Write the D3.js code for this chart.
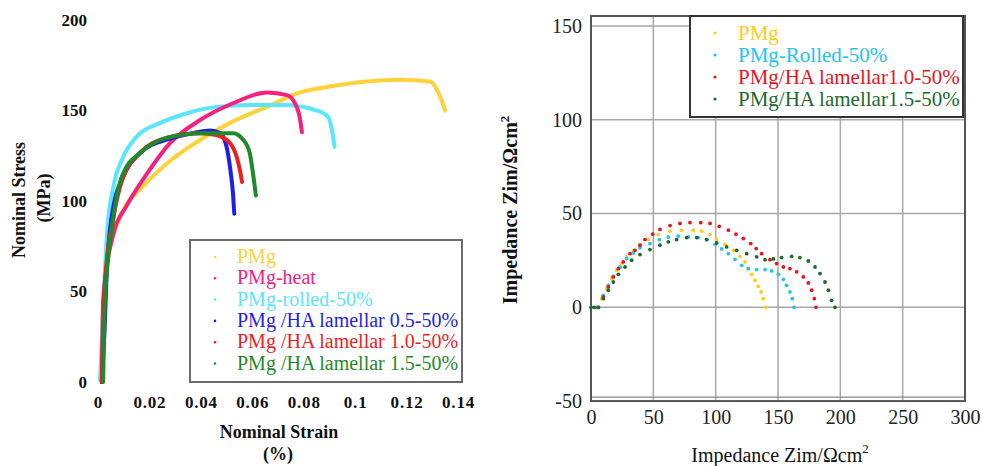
<!DOCTYPE html>
<html>
<head>
<meta charset="utf-8">
<script src="https://cdn.jsdelivr.net/npm/d3@7"></script>
<style>
  body { margin: 0; background: #fff; }
  text { font-family: "Liberation Serif", "Times New Roman", serif; }
</style>
</head>
<body>
<div id="chart"></div>
<script>
// ---- left panel: tensile curves (strain, stress MPa)
var strainTicks = [0, 0.02, 0.04, 0.06, 0.08, 0.1, 0.12, 0.14]
var strainLabels = ["0", "0.02", "0.04", "0.06", "0.08", "0.1", "0.12", "0.14"]
var stressTicks = [0, 50, 100, 150, 200]

var pmg = [[0.0015,0],[0.0022,30],[0.0035,63.5],[0.0086,91],[0.0175,108],[0.027,121],[0.040,134],[0.0525,144],[0.0657,152],[0.0786,160],[0.0914,163.5],[0.1046,166],[0.117,167],[0.129,166],[0.132,161],[0.135,150]]
var pmgHeat = [[0.0015,0],[0.002,45],[0.006,82],[0.011,97],[0.019,115],[0.028,132],[0.040,145],[0.0525,154],[0.0657,160],[0.0735,158.5],[0.0766,154],[0.0786,145],[0.0793,138]]
var pmgRolled = [[0.0008,1],[0.002,40],[0.0035,82],[0.006,108],[0.0097,124],[0.015,135.5],[0.024,143],[0.0346,148.5],[0.046,152],[0.059,153],[0.072,153],[0.085,150],[0.0895,146.5],[0.091,139],[0.092,130]]
var lam05 = [[0.0015,0],[0.0025,27],[0.0035,63.5],[0.006,97],[0.0097,113],[0.0163,126.5],[0.027,134],[0.037,137.5],[0.0436,139],[0.0475,137.5],[0.050,130],[0.0513,119],[0.0525,104],[0.053,93]]
var lam10 = [[0.0015,0],[0.0027,55],[0.006,91],[0.0097,113],[0.0163,126.5],[0.027,135],[0.040,137.5],[0.046,136.5],[0.0513,132],[0.054,124],[0.0552,117],[0.056,110.5]]
var lam15 = [[0.002,0],[0.0027,45],[0.006,91],[0.0097,115],[0.0163,126.5],[0.027,135],[0.040,137.5],[0.0525,137.5],[0.0564,134],[0.059,126.5],[0.0603,115],[0.0614,103]]

var tensileNames = ["PMg", "PMg-heat", "PMg-rolled-50%", "PMg /HA lamellar 0.5-50%", "PMg /HA lamellar 1.0-50%", "PMg /HA lamellar 1.5-50%"]
var tensileColors = ["#ffd23a", "#f5217f", "#5ae6ff", "#1f1fe8", "#f01e1e", "#1e8a2a"]
var tensileData = [pmg, pmgHeat, pmgRolled, lam05, lam10, lam15]
var drawOrder = [0, 2, 1, 3, 4, 5]

// ---- right panel: Nyquist plot (Z', Z'')
var zTicksX = [0, 50, 100, 150, 200, 250, 300]
var zTicksY = [-50, 0, 50, 100, 150]

var zPmg = [[4.5,0],[8.6,4.6],[12.6,10.0],[16.6,15.3],[20.6,19.8],[24.6,23.3],[28.6,26.9],[34.0,30.4],[39.3,33.1],[46.0,36.1],[54.0,38.8],[63.4,40.6],[72.7,41.1],[82.1,41.1],[88.8,40.6],[95.5,38.8],[100.8,36.1],[107.5,33.6],[114.2,30.4],[119.5,27.2],[123.5,24.2],[126.2,20.6],[128.9,17.6],[131.5,14.4],[134.2,11.2],[136.4,8.2],[138.2,4.6],[140.4,0]]
var zRolled = [[4.5,0],[9.9,6.4],[13.9,11.7],[17.9,16.5],[23.3,21.5],[28.6,26.0],[34.0,29.0],[39.3,31.7],[47.3,34.0],[54.8,36.1],[62.0,37.5],[70.0,37.9],[78.1,37.5],[86.1,37.2],[92.8,36.1],[99.5,33.6],[104.8,31.1],[110.2,28.6],[115.5,25.6],[120.9,22.4],[126.2,20.6],[132.9,20.1],[139.6,20.1],[144.9,19.4],[150.3,17.6],[154.3,14.9],[156.9,11.7],[159.6,8.2],[161.5,4.6],[162.8,0]]
var zLam10 = [[5.9,0],[9.9,5.5],[13.9,10.9],[17.9,16.2],[21.9,20.6],[25.9,24.2],[31.3,28.6],[35.3,30.4],[39.3,33.1],[43.3,36.1],[49.5,39.0],[55.3,41.5],[63.4,43.6],[71.4,44.7],[79.4,45.2],[88.0,45.2],[95.5,44.7],[102.9,43.2],[110.2,41.1],[116.3,39.0],[122.2,36.7],[128.1,34.0],[132.5,31.3],[136.9,28.6],[143.6,25.4],[148.9,23.3],[154.3,21.5],[159.6,20.6],[165.0,18.9],[170.3,16.2],[174.3,13.0],[177.0,9.1],[179.1,4.6],[180.5,0]]
var zLam15 = [[0,0],[2.5,0],[5.9,0],[9.9,4.6],[13.9,9.1],[17.9,13.5],[21.9,17.6],[27.3,21.5],[32.6,25.1],[39.3,28.1],[47.3,30.8],[55.3,33.1],[62.0,34.9],[68.7,36.1],[76.7,37.2],[84.8,37.2],[92.8,36.1],[100.8,34.3],[108.8,32.2],[116.8,30.4],[124.9,28.6],[132.9,26.9],[139.6,25.4],[146.3,25.8],[152.9,26.5],[161.0,27.2],[167.6,26.5],[174.3,24.7],[179.7,21.5],[183.7,18.0],[187.7,13.5],[190.4,9.1],[193.0,3.7],[195.7,0]]

var eisNames = ["PMg", "PMg-Rolled-50%", "PMg/HA lamellar1.0-50%", "PMg/HA lamellar1.5-50%"]
var eisColors = ["#ffcc1a", "#22c4f5", "#e8141e", "#1d6b2c"]
var eisData = [zPmg, zRolled, zLam10, zLam15]

var serif = "'Liberation Serif', 'Times New Roman', serif"

var svg = d3.select("#chart").append("svg")
	.attr("width", 982)
	.attr("height", 466)
	.style("background", "#fff")

// ================= left chart =================
var x1 = d3.scaleLinear().domain([0, 0.14]).range([98, 458])
var y1 = d3.scaleLinear().domain([0, 200]).range([382, 20])

var left = svg.append("g")

left.append("g")
	.attr("transform", "translate(0,382)")
	.call(d3.axisBottom(x1).tickValues(strainTicks).tickSize(0).tickPadding(14)
		.tickFormat(function(d, i) { return strainLabels[i] }))
	.call(function(g) { g.select(".domain").remove() })
	.selectAll("text")
		.attr("font-size", 17).attr("font-weight", "bold").attr("fill", "#111")
		.style("font-family", serif).attr("letter-spacing", 0.8)

left.append("g")
	.attr("transform", "translate(98,0)")
	.call(d3.axisLeft(y1).tickValues(stressTicks).tickSize(0).tickPadding(11))
	.call(function(g) { g.select(".domain").remove() })
	.selectAll("text")
		.attr("font-size", 17).attr("font-weight", "bold").attr("fill", "#111")
		.style("font-family", serif)

left.append("text")
	.attr("transform", "translate(25,200) rotate(-90)")
	.attr("text-anchor", "middle")
	.attr("font-size", 18).attr("font-weight", "bold").attr("fill", "#111")
	.text("Nominal Stress")
left.append("text")
	.attr("transform", "translate(50,198) rotate(-90)")
	.attr("text-anchor", "middle")
	.attr("font-size", 18).attr("font-weight", "bold").attr("fill", "#111")
	.text("(MPa)")
left.append("text")
	.attr("x", 279).attr("y", 438)
	.attr("text-anchor", "middle")
	.attr("font-size", 18).attr("font-weight", "bold").attr("fill", "#111")
	.text("Nominal Strain")
left.append("text")
	.attr("x", 278).attr("y", 460)
	.attr("text-anchor", "middle")
	.attr("font-size", 18).attr("font-weight", "bold").attr("fill", "#111")
	.text("(%)")

var tensileLine = d3.line()
	.curve(d3.curveMonotoneX)
	.x(function(d) { return x1(d[0]) })
	.y(function(d) { return y1(d[1]) })

drawOrder.forEach(function(i) {
	left.append("path")
		.datum(tensileData[i])
		.attr("fill", "none")
		.attr("stroke", tensileColors[i])
		.attr("stroke-width", 4)
		.attr("stroke-linejoin", "round")
		.attr("stroke-linecap", "round")
		.attr("d", tensileLine)
})

// legend
var leg1 = left.append("g")
leg1.append("rect")
	.attr("x", 190).attr("y", 240).attr("width", 272).attr("height", 142)
	.attr("fill", "#fff").attr("stroke", "#6a6a6a").attr("stroke-width", 2)
tensileNames.forEach(function(name, i) {
	var yy = 257 + i * 21.3
	leg1.append("circle")
		.attr("cx", 215).attr("cy", yy).attr("r", 1.3)
		.attr("fill", tensileColors[i])
	leg1.append("text")
		.attr("x", 237).attr("y", yy + 6)
		.attr("font-size", 20)
		.attr("fill", tensileColors[i])
		.text(name)
})

// ================= right chart =================
var x2 = d3.scaleLinear().domain([0, 300]).range([591, 965])
var y2 = d3.scaleLinear().domain([0, 150]).range([307.3, 26])

var right = svg.append("g")
var frameTop = 16, frameBottom = y2(-50)

right.append("g").selectAll("line.vx")
	.data(zTicksX.slice(1, -1))
	.join("line")
		.attr("x1", function(d) { return x2(d) }).attr("x2", function(d) { return x2(d) })
		.attr("y1", frameTop).attr("y2", frameBottom)
		.attr("stroke", "#a8a8a8").attr("stroke-width", 1.5)

right.append("g").selectAll("line.hy")
	.data(zTicksY.slice(1))
	.join("line")
		.attr("x1", 591).attr("x2", 965)
		.attr("y1", function(d) { return y2(d) }).attr("y2", function(d) { return y2(d) })
		.attr("stroke", "#a8a8a8").attr("stroke-width", 1.5)

right.append("line")
	.attr("x1", 591).attr("x2", 965)
	.attr("y1", frameBottom - 4).attr("y2", frameBottom - 4)
	.attr("stroke", "#888").attr("stroke-width", 1.2)

right.append("rect")
	.attr("x", 591).attr("y", frameTop)
	.attr("width", 374).attr("height", frameBottom - frameTop)
	.attr("fill", "none").attr("stroke", "#555").attr("stroke-width", 2)

right.append("g")
	.attr("transform", "translate(0," + frameBottom + ")")
	.call(d3.axisBottom(x2).tickValues(zTicksX).tickSize(0).tickPadding(9))
	.call(function(g) { g.select(".domain").remove() })
	.selectAll("text")
		.attr("font-size", 20).attr("fill", "#222").style("font-family", serif)

right.append("g")
	.attr("transform", "translate(591,0)")
	.call(d3.axisLeft(y2).tickValues(zTicksY).tickSize(0).tickPadding(9)
		.tickFormat(function(d) { return String(d) }))
	.call(function(g) { g.select(".domain").remove() })
	.selectAll("text")
		.attr("font-size", 20).attr("fill", "#222").style("font-family", serif)

var yTitle = right.append("text")
	.attr("transform", "translate(517,210) rotate(-90)")
	.attr("text-anchor", "middle")
	.attr("font-size", 20).attr("font-weight", "bold").attr("fill", "#111")
yTitle.append("tspan").text("Impedance Zim/Ωcm")
yTitle.append("tspan").attr("font-size", 13).attr("dy", -8).text("2")

var xTitle = right.append("text")
	.attr("x", 780).attr("y", 462)
	.attr("text-anchor", "middle")
	.attr("font-size", 20).attr("fill", "#111")
xTitle.append("tspan").text("Impedance Zim/Ωcm")
xTitle.append("tspan").attr("font-size", 13).attr("dy", -9).text("2")

eisData.forEach(function(series, i) {
	right.append("g").selectAll("circle")
		.data(series)
		.join("circle")
			.attr("cx", function(d) { return x2(d[0]) })
			.attr("cy", function(d) { return y2(d[1]) })
			.attr("r", 1.9)
			.attr("fill", eisColors[i])
})

var leg2 = right.append("g")
leg2.append("rect")
	.attr("x", 690).attr("y", frameTop).attr("width", 273).attr("height", 101)
	.attr("fill", "#fff").attr("stroke", "#333").attr("stroke-width", 2)
eisNames.forEach(function(name, i) {
	var yy = 33 + i * 22
	leg2.append("circle")
		.attr("cx", 715).attr("cy", yy).attr("r", 1.6)
		.attr("fill", eisColors[i])
	leg2.append("text")
		.attr("x", 738).attr("y", yy + 7)
		.attr("font-size", 21)
		.attr("fill", eisColors[i])
		.text(name)
})
</script>
</body>
</html>
